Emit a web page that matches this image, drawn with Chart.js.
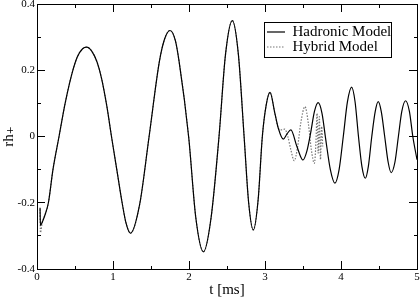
<!DOCTYPE html>
<html><head><meta charset="utf-8">
<script src="https://cdn.jsdelivr.net/npm/chart.js@4/dist/chart.umd.min.js"></script>
<style>html,body{margin:0;padding:0;background:#fff;}canvas{display:block;}</style>
</head><body>
<canvas id="c" width="420" height="298"></canvas>
<script>
// ---- data ----
const seriesNames = ['Hadronic Model', 'Hybrid Model'];
const xTickLabels = ['0', '1', '2', '3', '4', '5'];
const yTickLabels = ['-0.4', '-0.2', '0', '0.2', '0.4'];

// start of each run (small spike at t ~ 0.04 ms)
const hadronicHeadT = [0.04, 0.045];
const hadronicHeadV = [-0.215, -0.268];
const hybridHeadT = [0.04, 0.045];
const hybridHeadV = [-0.22, -0.29];

// both models coincide up to ~3.17 ms
const sharedT = [0.07,0.10,0.15,0.21,0.29,0.37,0.46,0.53,0.60,0.654,0.72,0.79,0.85,0.92,0.98,1.05,1.12,1.17,1.23,1.35,1.475,1.61,1.68,1.75,1.82,1.87,1.995,2.09,2.19,2.29,2.395,2.48,2.57,2.65,2.725,2.785,2.846,2.91,2.965,3.015,3.066,3.13,3.175];
const sharedV = [-0.258,-0.24,-0.20,-0.10,0.0,0.10,0.19,0.24,0.265,0.270,0.258,0.225,0.175,0.09,0.0,-0.10,-0.20,-0.26,-0.292,-0.206,0.0,0.226,0.295,0.320,0.29,0.226,0.0,-0.246,-0.348,-0.246,0.0,0.247,0.350,0.247,0.0,-0.20,-0.282,-0.19,0.0,0.094,0.133,0.07,0.025];

// hadronic model after the split
const hadronicTailT = [3.24,3.29,3.34,3.42,3.50,3.55,3.60,3.65,3.70,3.75,3.80,3.86,3.92,3.975,4.03,4.085,4.14,4.185,4.23,4.275,4.32,4.36,4.405,4.45,4.49,4.53,4.575,4.62,4.66,4.71,4.755,4.80,4.85,4.90,4.945,5.0];
const hadronicTailV = [-0.008,0.008,0.02,-0.03,-0.071,-0.045,0.01,0.075,0.102,0.07,-0.01,-0.10,-0.141,-0.10,0.0,0.105,0.149,0.105,0.0,-0.09,-0.126,-0.09,0.0,0.075,0.105,0.075,0.0,-0.077,-0.109,-0.077,0.0,0.076,0.108,0.076,0.0,-0.07];

// hybrid model after the split (ends ~3.76 ms)
const hybridTailT = [3.21,3.26,3.30,3.34,3.385,3.43,3.47,3.526,3.57,3.61,3.65,3.67,3.685,3.70,3.715,3.73,3.745,3.76];
const hybridTailV = [0.02,0.022,0.0,-0.04,-0.073,-0.03,0.04,0.09,0.04,-0.04,-0.081,-0.02,0.07,-0.05,0.06,-0.07,0.03,-0.03];

// ---- build ----
function pts(ts, vs) { return ts.map((t, i) => ({x: t, y: vs[i]})); }
const hadronicData = [...pts(hadronicHeadT, hadronicHeadV), ...pts(sharedT, sharedV), ...pts(hadronicTailT, hadronicTailV)];
const hybridData = [...pts(hybridHeadT, hybridHeadV), ...pts(sharedT, sharedV), ...pts(hybridTailT, hybridTailV)];

const SERIF = "'Liberation Serif','DejaVu Serif','Times New Roman',serif";
Chart.defaults.font.family = SERIF;
Chart.defaults.color = '#000';

const isMajorX = v => Math.abs(v - Math.round(v)) < 1e-6;
const isMajorY = v => Math.abs(v * 5 - Math.round(v * 5)) < 1e-6;
function xLabel(v) { return isMajorX(v) ? xTickLabels[Math.round(v)] : ''; }
function yLabel(v) { return isMajorY(v) ? yTickLabels[Math.round((v + 0.4) * 5)] : ''; }
function zeroPad(s) { s.paddingLeft = 0; s.paddingRight = 0; s.paddingTop = 0; s.paddingBottom = 0; }

const border = {display: true, color: '#000', width: 1};
const legendFrame = {
  id: 'legendFrame',
  afterLayout(chart) {
    const lg = chart.legend; if (!lg) return;
    lg.left = 267; lg.right = 392; lg.top = 22; lg.bottom = 57;
    lg.width = lg.right - lg.left; lg.height = lg.bottom - lg.top;
  },
  afterDraw(chart) {
    const ctx = chart.ctx; ctx.save();
    ctx.strokeStyle = '#000'; ctx.lineWidth = 1;
    ctx.strokeRect(264.5, 22.5, 127, 35);
    ctx.restore();
  }
};

new Chart(document.getElementById('c'), {
  type: 'line',
  data: {
    datasets: [
      {label: seriesNames[0], data: hadronicData, borderColor: '#000', backgroundColor: 'rgba(0,0,0,0)', borderWidth: 1.2, pointRadius: 0, fill: false, cubicInterpolationMode: 'monotone'},
      {label: seriesNames[1], data: hybridData, borderColor: '#777', backgroundColor: 'rgba(0,0,0,0)', borderWidth: 1.2, borderDash: [1.5, 1.5], pointRadius: 0, fill: false, cubicInterpolationMode: 'monotone'}
    ]
  },
  options: {
    responsive: false, animation: false, devicePixelRatio: 1,
    layout: {padding: {left: 0, top: 4, right: 3, bottom: 0}},
    scales: {
      x: {type: 'linear', position: 'bottom', min: 0, max: 5,
        ticks: {stepSize: 0.5, autoSkip: false, maxRotation: 0, padding: 10, font: {size: 11}, color: '#000', callback: xLabel},
        grid: {drawOnChartArea: false, tickLength: -8, tickColor: '#000', tickWidth: 1,
          tickBorderDash: c => (c.tick && isMajorX(c.tick.value)) ? [] : [4, 100]},
        border,
        title: {display: true, text: 't [ms]', font: {size: 15, lineHeight: 1}, padding: 0, color: '#000'},
        afterFit: s => { s.height = 29; zeroPad(s); }},
      x2: {type: 'linear', position: 'top', min: 0, max: 5,
        ticks: {display: false, stepSize: 0.5, autoSkip: false},
        grid: {drawOnChartArea: false, tickLength: -8, tickColor: '#000', tickWidth: 1,
          tickBorderDash: c => (c.tick && isMajorX(c.tick.value)) ? [] : [0, 4, 4, 100]},
        border,
        afterFit: s => { s.height = 0; zeroPad(s); }},
      y: {type: 'linear', position: 'left', min: -0.4, max: 0.4,
        ticks: {stepSize: 0.1, autoSkip: false, padding: 10, font: {size: 11}, color: '#000', callback: yLabel},
        grid: {drawOnChartArea: false, tickLength: -8, tickColor: '#000', tickWidth: 1,
          tickBorderDash: c => (c.tick && isMajorY(c.tick.value)) ? [] : [0, 4, 4, 100]},
        border,
        title: {display: true, text: 'rh\u208A', font: {size: 15, lineHeight: 1}, padding: {top: 2, bottom: 0}, color: '#000'},
        afterFit: s => { s.width = 37; zeroPad(s); }},
      y2: {type: 'linear', position: 'right', min: -0.4, max: 0.4,
        ticks: {display: false, stepSize: 0.1, autoSkip: false},
        grid: {drawOnChartArea: false, tickLength: -8, tickColor: '#000', tickWidth: 1,
          tickBorderDash: c => (c.tick && isMajorY(c.tick.value)) ? [] : [4, 100]},
        border,
        afterFit: s => { s.width = 0; zeroPad(s); }}
    },
    plugins: {
      legend: {display: true, position: 'chartArea',
        labels: {usePointStyle: true, pointStyle: 'line', pointStyleWidth: 18, padding: 0, color: '#000', font: {size: 15},
          generateLabels(chart) {
            const items = Chart.defaults.plugins.legend.labels.generateLabels(chart);
            items.forEach(it => {
              const ds = chart.data.datasets[it.datasetIndex];
              it.pointStyle = 'line';
              it.strokeStyle = ds.borderColor;
              it.lineWidth = ds.borderWidth;
              it.lineDash = ds.borderDash || [];
            });
            return items;
          }}},
      tooltip: {enabled: false}
    }
  },
  plugins: [legendFrame]
});
</script>
</body></html>
